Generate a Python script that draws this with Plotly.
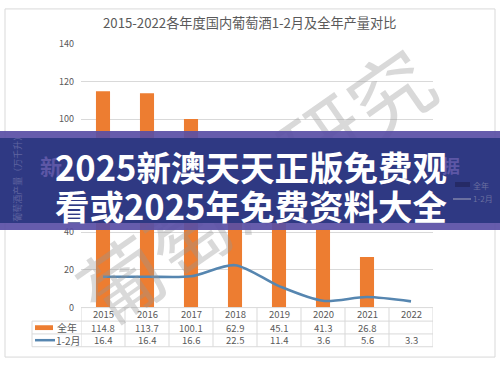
import plotly.graph_objects as go

# ---- data ----
years = ["2015", "2016", "2017", "2018", "2019", "2020", "2021", "2022"]
full_year = [114.8, 113.7, 100.1, 62.9, 45.1, 41.3, 26.8, None]
jan_feb = [16.4, 16.4, 16.6, 22.5, 11.4, 3.6, 5.6, 3.3]
y_ticks = [0, 20, 40, 60, 80, 100, 120, 140]
series_names = ["全年", "1-2月"]
title_text = "2015-2022各年度国内葡萄酒1-2月及全年产量对比"
banner_lines = ["2025新澳天天正版免费观", "看或2025年免费资料大全"]
watermark_text = "葡萄酒研究"
yaxis_title = "葡萄酒产量（万千升）"

W, H = 500, 365
FONT = "Noto Sans CJK SC"
ORANGE = "#ED7D31"
BLUE = "#5686B0"
GRAY_TXT = "#595959"
GRID = "#D9D9D9"


def px(x):
    return x / W


def py(y):
    return 1 - y / H


# table row boundaries (px)
ROW_TOP, ROW1, ROW2, ROW3 = 311.7, 325.7, 339.0, 352.3
LEFT_COL = 32

fig = go.Figure()
fig.add_trace(go.Bar(x=years, y=full_year, name=series_names[0],
                     marker=dict(color=ORANGE, line=dict(width=0)), width=0.32,
                     showlegend=False, hoverinfo="skip"))
fig.add_trace(go.Scatter(x=years, y=jan_feb, name=series_names[1], mode="lines",
                         line=dict(color=BLUE, width=2.6, shape="spline", smoothing=0.8),
                         showlegend=False, hoverinfo="skip"))

shapes = []
annotations = []

# outer frame
shapes.append(dict(type="rect", xref="paper", yref="paper", x0=px(5), x1=px(495),
                   y0=py(363), y1=py(2), line=dict(color="#D9D9D9", width=1)))

# table grid
n = len(years)
shapes.append(dict(type="line", xref="x", yref="paper", x0=-0.5, x1=n - 0.5,
                   y0=py(ROW_TOP), y1=py(ROW_TOP), line=dict(color=GRID, width=1)))
for r in (ROW1, ROW2, ROW3):
    shapes.append(dict(type="line", xref="paper", yref="paper", x0=px(LEFT_COL), x1=px(433),
                       y0=py(r), y1=py(r), line=dict(color=GRID, width=1)))
shapes.append(dict(type="line", xref="paper", yref="paper", x0=px(LEFT_COL), x1=px(LEFT_COL),
                   y0=py(ROW1), y1=py(ROW3), line=dict(color=GRID, width=1)))
for i in range(n + 1):
    shapes.append(dict(type="line", xref="x", yref="paper", x0=i - 0.5, x1=i - 0.5,
                       y0=py(ROW_TOP), y1=py(ROW3), line=dict(color=GRID, width=1)))

# table legend keys
shapes.append(dict(type="rect", xref="paper", yref="paper", x0=px(35), x1=px(53),
                   y0=py(335), y1=py(330), fillcolor=ORANGE, line=dict(width=0)))
shapes.append(dict(type="line", xref="paper", yref="paper", x0=px(35), x1=px(55),
                   y0=py(345.5), y1=py(345.5), line=dict(color=BLUE, width=2.5)))
annotations.append(dict(xref="paper", yref="paper", x=px(67), y=py((ROW1 + ROW2) / 2),
                        text=series_names[0], showarrow=False, xanchor="center", yanchor="middle",
                        font=dict(family=FONT, size=10, color=GRAY_TXT)))
annotations.append(dict(xref="paper", yref="paper", x=px(68), y=py((ROW2 + ROW3) / 2),
                        text=series_names[1], showarrow=False, xanchor="center", yanchor="middle",
                        font=dict(family=FONT, size=10, color=GRAY_TXT)))

# table cells (x by category index)
for i, yr in enumerate(years):
    annotations.append(dict(xref="x", yref="paper", x=i, y=py((ROW_TOP + ROW1) / 2), text=yr,
                            showarrow=False, xanchor="center", yanchor="middle",
                            font=dict(family=FONT, size=9.5, color=GRAY_TXT)))
    if full_year[i] is not None:
        annotations.append(dict(xref="x", yref="paper", x=i, y=py((ROW1 + ROW2) / 2),
                                text=f"{full_year[i]:.1f}", showarrow=False,
                                xanchor="center", yanchor="middle",
                                font=dict(family=FONT, size=9.5, color=GRAY_TXT)))
    annotations.append(dict(xref="x", yref="paper", x=i, y=py((ROW2 + ROW3) / 2),
                            text=f"{jan_feb[i]:.1f}", showarrow=False,
                            xanchor="center", yanchor="middle",
                            font=dict(family=FONT, size=9.5, color=GRAY_TXT)))

# title
annotations.append(dict(xref="paper", yref="paper", x=px(249), y=py(16), text=title_text,
                        showarrow=False, xanchor="center", yanchor="middle",
                        font=dict(family=FONT, size=13.2, color=GRAY_TXT)))

# watermark (below banner)
annotations.append(dict(xref="paper", yref="paper", x=px(254), y=py(183), text=watermark_text,
                        showarrow=False, xanchor="center", yanchor="middle", textangle=-35,
                        font=dict(family=FONT, size=82, color="rgba(150,150,150,0.36)")))

# banner: stripes then navy body
annotations.append(dict(xref="paper", yref="paper", x=0.5, y=py(179.5), text=" ",
                        showarrow=False, xanchor="center", yanchor="middle",
                        width=520, height=99, bgcolor="#5A4FA5", borderwidth=0, borderpad=0,
                        opacity=0.92))
annotations.append(dict(xref="paper", yref="paper", x=0.5, y=py(179.5), text=" ",
                        showarrow=False, xanchor="center", yanchor="middle",
                        width=520, height=85, bgcolor="#2F3983", borderwidth=0, borderpad=0))

# faint items seen through banner
faint = "#5F64A0"
annotations.append(dict(xref="paper", yref="paper", x=px(18), y=py(176), text=yaxis_title,
                        showarrow=False, textangle=-90, xanchor="center", yanchor="middle",
                        font=dict(family=FONT, size=9, color=faint)))
annotations.append(dict(xref="paper", yref="paper", x=px(51), y=py(164), text="新",
                        showarrow=False, xanchor="center", yanchor="middle",
                        font=dict(family=FONT, size=22, color="#5D57A6", weight="bold")))
annotations.append(dict(xref="paper", yref="paper", x=px(451), y=py(164), text="据",
                        showarrow=False, xanchor="center", yanchor="middle",
                        font=dict(family=FONT, size=18, color="#5D57A6", weight="bold")))
annotations.append(dict(xref="paper", yref="paper", x=px(462), y=py(184.5), text=" ",
                        showarrow=False, xanchor="center", yanchor="middle",
                        width=15, height=5, bgcolor="#252A66", borderwidth=0, borderpad=0))
annotations.append(dict(xref="paper", yref="paper", x=px(462), y=py(199), text=" ",
                        showarrow=False, xanchor="center", yanchor="middle",
                        width=18, height=1.5, bgcolor="#6B70A0", borderwidth=0, borderpad=0))
annotations.append(dict(xref="paper", yref="paper", x=px(471), y=py(185), text=series_names[0],
                        showarrow=False, xanchor="left", yanchor="middle",
                        font=dict(family=FONT, size=8, color="#6B70A0")))
annotations.append(dict(xref="paper", yref="paper", x=px(471), y=py(199), text=series_names[1],
                        showarrow=False, xanchor="left", yanchor="middle",
                        font=dict(family=FONT, size=8, color="#6B70A0")))

# banner text
for k, line in enumerate(banner_lines):
    annotations.append(dict(xref="paper", yref="paper", x=px(251), y=py(165 + 40 * k), text=line,
                            showarrow=False, xanchor="center", yanchor="middle",
                            font=dict(family=FONT, size=34.5, color="white", weight="bold")))

fig.update_layout(
    width=W, height=H,
    margin=dict(l=0, r=0, t=0, b=0),
    paper_bgcolor="white", plot_bgcolor="white",
    showlegend=False,
    xaxis=dict(domain=[px(81), px(433)], range=[-0.5, n - 0.5], type="category",
               showticklabels=False, showgrid=False, zeroline=False, showline=False,
               ticks="", fixedrange=True),
    yaxis=dict(domain=[py(ROW_TOP), py(38)], range=[0, 140], tickvals=y_ticks,
               showgrid=True, gridcolor=GRID, gridwidth=1, zeroline=False, showline=False,
               ticks="", ticklabelstandoff=6,
               tickfont=dict(family=FONT, size=9, color=GRAY_TXT), fixedrange=True),
    shapes=shapes,
    annotations=annotations,
)

fig.write_html("out.html", config={"displayModeBar": False, "staticPlot": True},
               post_script="document.body.style.margin='0';document.body.style.overflow='hidden';")
